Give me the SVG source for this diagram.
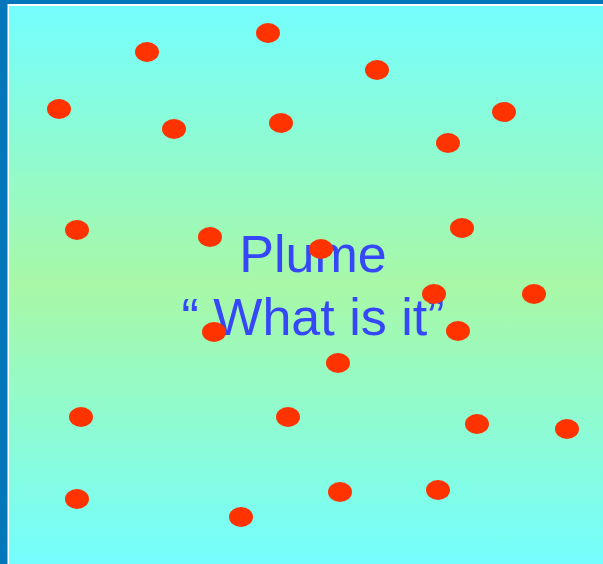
<svg xmlns="http://www.w3.org/2000/svg" width="603" height="564" viewBox="0 0 603 564">
<defs>
<linearGradient id="bg" x1="0" y1="0" x2="0" y2="1">
<stop offset="0" stop-color="#74FEFE"/>
<stop offset="0.5" stop-color="#A8F8A6"/>
<stop offset="1" stop-color="#74FEFE"/>
</linearGradient>
<style>
.dot{fill:#FF3300}
.t{font-family:"Liberation Sans",Arial,sans-serif;font-size:52px;fill:#3547F8;text-anchor:middle}
</style>
</defs>
<rect x="0" y="0" width="603" height="564" fill="#0477BB"/>
<rect x="7.5" y="4" width="596" height="560" fill="#FFFFFF"/>
<rect x="9" y="6" width="594" height="558" fill="url(#bg)"/>
<g id="label">
<text class="t" x="313" y="272">Plume</text>
<text class="t" x="313" y="335" xml:space="preserve">“ What is it”</text>
</g>
<g id="dots">
<ellipse class="dot" cx="147" cy="52" rx="12" ry="10"/>
<ellipse class="dot" cx="268" cy="33" rx="12" ry="10"/>
<ellipse class="dot" cx="377" cy="70" rx="12" ry="10"/>
<ellipse class="dot" cx="59" cy="109" rx="12" ry="10"/>
<ellipse class="dot" cx="174" cy="129" rx="12" ry="10"/>
<ellipse class="dot" cx="281" cy="123" rx="12" ry="10"/>
<ellipse class="dot" cx="448" cy="143" rx="12" ry="10"/>
<ellipse class="dot" cx="504" cy="112" rx="12" ry="10"/>
<ellipse class="dot" cx="77" cy="230" rx="12" ry="10"/>
<ellipse class="dot" cx="210" cy="237" rx="12" ry="10"/>
<ellipse class="dot" cx="321" cy="249" rx="12" ry="10"/>
<ellipse class="dot" cx="462" cy="228" rx="12" ry="10"/>
<ellipse class="dot" cx="434" cy="294" rx="12" ry="10"/>
<ellipse class="dot" cx="534" cy="294" rx="12" ry="10"/>
<ellipse class="dot" cx="214" cy="332" rx="12" ry="10"/>
<ellipse class="dot" cx="458" cy="331" rx="12" ry="10"/>
<ellipse class="dot" cx="338" cy="363" rx="12" ry="10"/>
<ellipse class="dot" cx="81" cy="417" rx="12" ry="10"/>
<ellipse class="dot" cx="288" cy="417" rx="12" ry="10"/>
<ellipse class="dot" cx="477" cy="424" rx="12" ry="10"/>
<ellipse class="dot" cx="567" cy="429" rx="12" ry="10"/>
<ellipse class="dot" cx="77" cy="499" rx="12" ry="10"/>
<ellipse class="dot" cx="241" cy="517" rx="12" ry="10"/>
<ellipse class="dot" cx="340" cy="492" rx="12" ry="10"/>
<ellipse class="dot" cx="438" cy="490" rx="12" ry="10"/>
</g>
</svg>
